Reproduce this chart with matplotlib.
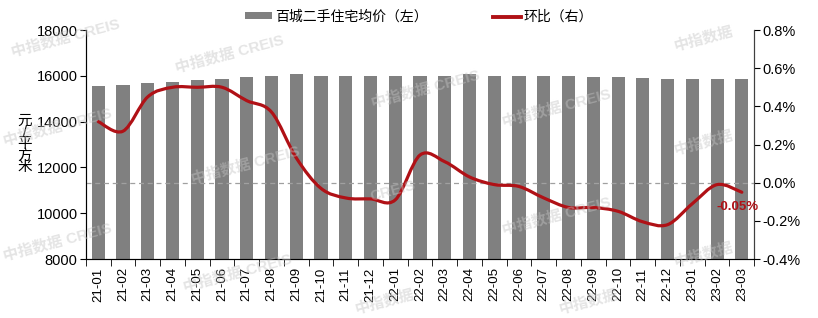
import matplotlib
matplotlib.use('Agg')
import matplotlib.pyplot as plt
from matplotlib.path import Path
from matplotlib.patches import PathPatch
from matplotlib.lines import Line2D
from matplotlib.patches import Patch
import numpy as np

plt.rcParams['font.family'] = ['Liberation Sans', 'Noto Sans CJK SC']
plt.rcParams['axes.unicode_minus'] = False

months = ['21-01', '21-02', '21-03', '21-04', '21-05', '21-06', '21-07', '21-08', '21-09',
          '21-10', '21-11', '21-12', '22-01', '22-02', '22-03', '22-04', '22-05', '22-06',
          '22-07', '22-08', '22-09', '22-10', '22-11', '22-12', '23-01', '23-02', '23-03']
price = [15550, 15600, 15700, 15740, 15830, 15870, 15957, 16000, 16070,
         16000, 16000, 16000, 16000, 16000, 16000, 16060, 16000, 16000,
         16000, 16000, 15957, 15957, 15913, 15870, 15870, 15870, 15870]
mom = [0.32, 0.27, 0.45, 0.50, 0.50, 0.50, 0.43, 0.37, 0.13,
       -0.03, -0.08, -0.085, -0.09, 0.145, 0.11, 0.03, -0.01, -0.02,
       -0.08, -0.13, -0.13, -0.15, -0.205, -0.22, -0.11, -0.01, -0.05]

RED = '#b01116'
GRAY = '#808080'
W, H = 818, 318

fig = plt.figure(figsize=(8.18, 3.18), dpi=100)
ax = fig.add_axes([0.105, 0.1855, 0.817, 0.72])
x = np.arange(len(months))
ax.bar(x, price, width=0.53, color=GRAY, zorder=2)
ax.set_xlim(-0.5, len(months) - 0.5)
ax.set_ylim(8000, 18000)
ax.set_yticks(range(8000, 18001, 2000))
ax.tick_params(axis='y', labelsize=10.5, length=4, direction='out', pad=2)
ax.set_xticks(x)
ax.set_xticklabels(months, rotation=90, fontsize=9.5)
ax.set_xticks(np.arange(-0.5, len(months)), minor=True)
ax.tick_params(axis='x', which='major', length=0, pad=6)
ax.tick_params(axis='x', which='minor', length=5, direction='out')
ax.spines['top'].set_visible(False)
for s in ['left', 'bottom', 'right']:
    ax.spines[s].set_color('#404040')

ax2 = ax.twinx()
ax2.set_ylim(-0.4, 0.8)
ax2.set_yticks([-0.4, -0.2, 0.0, 0.2, 0.4, 0.6, 0.8])
ax2.set_yticklabels(['%.1f%%' % v for v in [-0.4, -0.2, 0.0, 0.2, 0.4, 0.6, 0.8]])
ax2.tick_params(axis='y', labelsize=10.5, length=4, direction='out', pad=2)
ax2.spines['top'].set_visible(False)
ax2.spines['right'].set_color('#404040')
ax2.axhline(0, color='#a0a0a0', lw=0.9, ls=(0, (4, 3)), zorder=1)

# smooth line (Catmull-Rom as Bezier curves)
pts = np.column_stack([x, mom]).astype(float)
verts = [pts[0]]
codes = [Path.MOVETO]
n = len(pts)
for i in range(n - 1):
    p0 = pts[i - 1] if i > 0 else pts[i]
    p1 = pts[i]
    p2 = pts[i + 1]
    p3 = pts[i + 2] if i + 2 < n else pts[i + 1]
    c1 = p1 + (p2 - p0) / 6.0
    c2 = p2 - (p3 - p1) / 6.0
    verts += [c1, c2, p2]
    codes += [Path.CURVE4] * 3
ax2.add_patch(PathPatch(Path(verts, codes), fill=False, edgecolor=RED, lw=2.3,
                        capstyle='round', joinstyle='round', zorder=3))

ax2.annotate('%.2f%%' % mom[-1], xy=(x[-1], mom[-1]), xytext=(-4, -15),
             textcoords='offset pixels', ha='center', va='center',
             color=RED, fontsize=9.5, fontweight='bold')

# vertical unit label 元/平方米
fig.text(25 / W, 1 - 144 / H, '元\n/\n平\n方\n米', ha='center', va='center',
         fontsize=10.5, linespacing=0.78)

handles = [Patch(facecolor=GRAY, edgecolor='none'),
           Line2D([0], [0], color=RED, lw=2.8)]
fig.legend(handles, ['百城二手住宅均价（左）', '环比（右）'], loc='center',
           bbox_to_anchor=(0.512, 0.947), ncol=2, frameon=False, fontsize=10,
           handlelength=2.0, handleheight=0.4, handletextpad=0.2, columnspacing=4.7)

# watermarks
wm = [(0.08, 0.88, '中指数据 CREIS'), (0.28, 0.83, '中指数据 CREIS'),
      (0.52, 0.72, '中指数据 CREIS'), (0.86, 0.88, '中指数据'),
      (0.07, 0.60, '中指数据 CREIS'), (0.30, 0.48, '中指数据 CREIS'),
      (0.68, 0.66, '中指数据 CREIS'), (0.86, 0.55, '中指数据'),
      (0.07, 0.24, '中指数据 CREIS'), (0.29, 0.14, '中指数据 CREIS'),
      (0.68, 0.32, '中指数据 CREIS'), (0.86, 0.20, '中指数据'),
      (0.48, 0.40, 'CREIS'), (0.47, 0.05, '中指数据'), (0.72, 0.05, '中指数据')]
for wx, wy, t in wm:
    fig.text(wx, wy, t, ha='center', va='center', rotation=15, fontsize=11,
             fontweight='bold', color='#c4c4c4', alpha=0.45, zorder=10)

fig.savefig('out.png', dpi=100)
